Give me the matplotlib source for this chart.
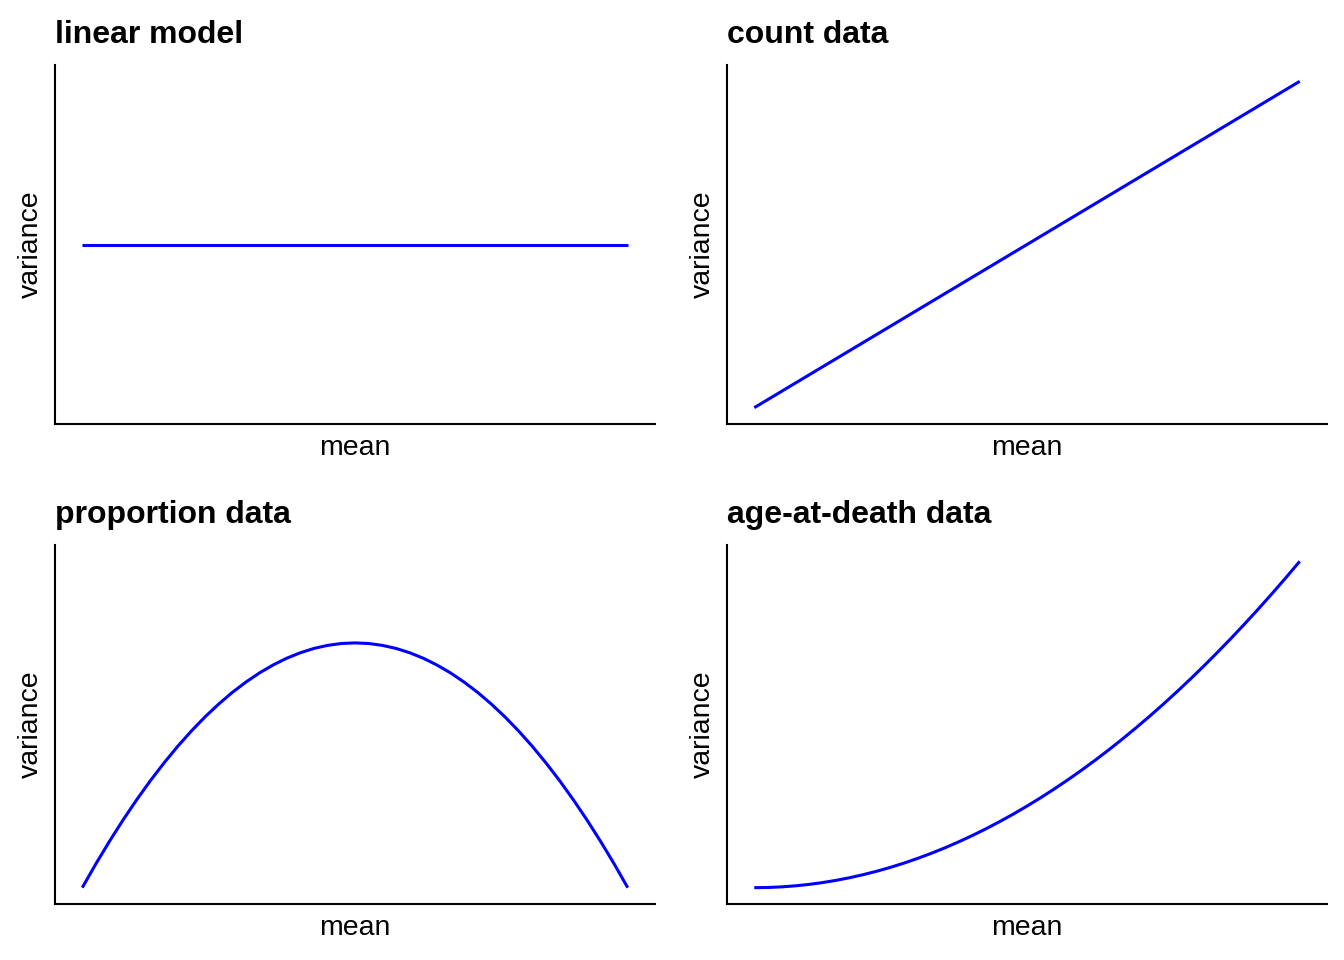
"""Mean-variance relationships for four common data types."""

import matplotlib
matplotlib.use("Agg")
import matplotlib.pyplot as plt

# mean values read along the x axis (scaled 0..1)
MEAN = [0.000, 0.025, 0.050, 0.075, 0.100, 0.125, 0.150, 0.175, 0.200, 0.225,
        0.250, 0.275, 0.300, 0.325, 0.350, 0.375, 0.400, 0.425, 0.450, 0.475,
        0.500, 0.525, 0.550, 0.575, 0.600, 0.625, 0.650, 0.675, 0.700, 0.725,
        0.750, 0.775, 0.800, 0.825, 0.850, 0.875, 0.900, 0.925, 0.950, 0.975,
        1.000]

# variance
VAR_LINEAR = [1.0] * len(MEAN)
VAR_COUNT = list(MEAN)
VAR_PROP = [0.0000, 0.0244, 0.0475, 0.0694, 0.0900, 0.1094, 0.1275, 0.1444, 0.1600, 0.1744,
            0.1875, 0.1994, 0.2100, 0.2194, 0.2275, 0.2344, 0.2400, 0.2444, 0.2475, 0.2494,
            0.2500, 0.2494, 0.2475, 0.2444, 0.2400, 0.2344, 0.2275, 0.2194, 0.2100, 0.1994,
            0.1875, 0.1744, 0.1600, 0.1444, 0.1275, 0.1094, 0.0900, 0.0694, 0.0475, 0.0244,
            0.0000]
VAR_AGE = [0.0000, 0.0006, 0.0025, 0.0056, 0.0100, 0.0156, 0.0225, 0.0306, 0.0400, 0.0506,
           0.0625, 0.0756, 0.0900, 0.1056, 0.1225, 0.1406, 0.1600, 0.1806, 0.2025, 0.2256,
           0.2500, 0.2756, 0.3025, 0.3306, 0.3600, 0.3906, 0.4225, 0.4556, 0.4900, 0.5256,
           0.5625, 0.6006, 0.6400, 0.6806, 0.7225, 0.7656, 0.8100, 0.8556, 0.9025, 0.9506,
           1.0000]

TITLES = ["linear model", "count data", "proportion data", "age-at-death data"]
SERIES = [VAR_LINEAR, VAR_COUNT, VAR_PROP, VAR_AGE]

plt.rcParams["font.family"] = ["Liberation Sans", "DejaVu Sans"]

fig = plt.figure(figsize=(13.44, 9.6), dpi=100)
boxes = [
    (55, 65, 655, 424),
    (727, 65, 1327, 424),
    (55, 545, 655, 904),
    (727, 545, 1327, 904),
]

for (x0, y0, x1, y1), title, var in zip(boxes, TITLES, SERIES):
    ax = fig.add_axes([x0 / 1344, 1 - y1 / 960, (x1 - x0) / 1344, (y1 - y0) / 960])
    ax.plot(MEAN, var, color="#0000ff", linewidth=2.2, solid_capstyle="butt")
    if var is VAR_PROP:
        top = 1 / 3
        ax.set_ylim(-0.05 * top, 1.05 * top)
    ax.set_xticks([])
    ax.set_yticks([])
    for side in ("top", "right"):
        ax.spines[side].set_visible(False)
    for side in ("left", "bottom"):
        ax.spines[side].set_linewidth(1.5)
        ax.spines[side].set_color("black")
    ax.set_xlabel("mean", fontsize=20.5, labelpad=8)
    ax.set_ylabel("variance", fontsize=20.5, labelpad=8)
    ax.set_title(title, loc="left", fontsize=23, fontweight="bold", pad=16)

fig.savefig("out.png", dpi=100)
